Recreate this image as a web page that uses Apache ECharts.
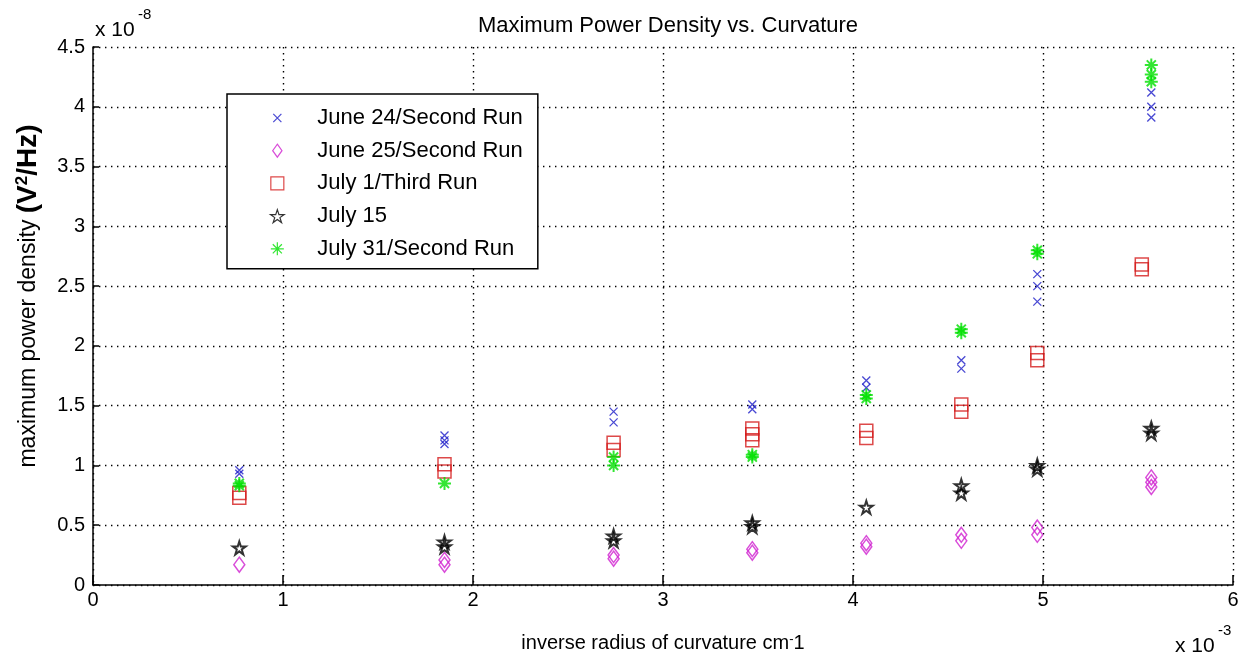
<!DOCTYPE html>
<html>
<head>
<meta charset="utf-8">
<script src="https://cdn.jsdelivr.net/npm/echarts@6/dist/echarts.min.js"></script>
<style>
html,body{margin:0;padding:0;background:#fff;}
#chart{width:1245px;height:663px;}
</style>
</head>
<body>
<div id="chart"></div>
<script>
// Values in axis units: x in 10^-3 cm^-1, y in 10^-8 V^2/Hz
const seriesNames = ['June 24/Second Run', 'June 25/Second Run', 'July 1/Third Run', 'July 15', 'July 31/Second Run'];

const xJune24 = [0.77, 0.77, 1.85, 1.85, 1.85, 2.74, 2.74, 3.47, 3.47, 4.07, 4.07, 4.57, 4.57, 4.97, 4.97, 4.97, 5.57, 5.57, 5.57];
const yJune24 = [0.96, 0.93, 1.25, 1.21, 1.18, 1.45, 1.36, 1.51, 1.47, 1.71, 1.65, 1.88, 1.81, 2.60, 2.50, 2.37, 4.12, 4.00, 3.91];

const xJune25 = [0.77, 1.85, 1.85, 2.74, 2.74, 3.47, 3.47, 4.07, 4.07, 4.57, 4.57, 4.97, 4.97, 5.57, 5.57, 5.57];
const yJune25 = [0.17, 0.21, 0.17, 0.25, 0.22, 0.30, 0.27, 0.35, 0.32, 0.42, 0.37, 0.48, 0.42, 0.90, 0.86, 0.82];

const xJuly1 = [0.77, 0.77, 1.85, 1.85, 2.74, 2.74, 3.47, 3.47, 3.47, 4.07, 4.07, 4.57, 4.57, 4.97, 4.97, 5.52, 5.52];
const yJuly1 = [0.77, 0.73, 1.01, 0.95, 1.19, 1.13, 1.31, 1.26, 1.21, 1.29, 1.23, 1.51, 1.45, 1.94, 1.88, 2.68, 2.64];

const xJuly15 = [0.77, 1.85, 1.85, 2.74, 2.74, 3.47, 3.47, 4.07, 4.57, 4.57, 4.97, 4.97, 5.57, 5.57];
const yJuly15 = [0.31, 0.36, 0.32, 0.41, 0.37, 0.52, 0.49, 0.65, 0.83, 0.77, 1.00, 0.97, 1.31, 1.27];

const xJuly31 = [0.77, 0.77, 1.85, 2.74, 2.74, 3.47, 3.47, 4.07, 4.07, 4.57, 4.57, 4.97, 4.97, 5.57, 5.57, 5.57];
const yJuly31 = [0.85, 0.83, 0.85, 1.07, 1.00, 1.09, 1.07, 1.59, 1.56, 2.14, 2.11, 2.80, 2.77, 4.35, 4.27, 4.21];

const xTicks = [0, 1, 2, 3, 4, 5, 6];
const yTicks = [0, 0.5, 1, 1.5, 2, 2.5, 3, 3.5, 4, 4.5];

function pairs(xs, ys) { return xs.map((x, i) => [x, ys[i]]); }

const FONT = '"Liberation Sans", Arial, sans-serif';
const starPath = 'path://M50,0L61.17,34.63L97.55,34.55L68.07,55.87L79.39,90.45L50,69L20.61,90.45L31.93,55.87L2.45,34.55L38.83,34.63Z';
const xPath = 'path://M0,0L10,10M10,0L0,10';
const xLegendPath = 'path://M-3,-3M0,0L10,10M10,0L0,10M13,13';
const astPath = 'path://M5,0L5,10M0,5L10,5M1.5,1.5L8.5,8.5M8.5,1.5L1.5,8.5';
const diamondPath = 'path://M5,0L10,7L5,14L0,7Z';
const rectPath = 'path://M0,0L10,0L10,10L0,10Z';

const chart = echarts.init(document.getElementById('chart'), null, {renderer: 'canvas'});

const dotted = {color: '#000', width: 1.4, type: [1.4, 4.6]};

const option = {
  backgroundColor: '#fff',
  animation: false,
  title: {
    text: 'Maximum Power Density vs. Curvature',
    left: 663, textAlign: 'center', top: 10,
    textStyle: {fontFamily: FONT, fontSize: 22, fontWeight: 'normal', color: '#000'}
  },
  grid: {left: 93, right: 12, top: 47, bottom: 78, containLabel: false},
  xAxis: {
    type: 'value', min: 0, max: 6, interval: 1,
    name: 'inverse radius of curvature cm{sup|-}1',
    nameLocation: 'middle', nameGap: 48,
    nameTextStyle: {fontFamily: FONT, fontSize: 20, color: '#000',
      rich: {sup: {fontFamily: FONT, fontSize: 13, color: '#000', verticalAlign: 'top', padding: [0, 0, 8, 0]}}},
    axisLine: {show: true, lineStyle: {color: '#000', width: 1.5}},
    axisTick: {show: true, inside: true, length: 10, lineStyle: {color: '#000', width: 1.5}},
    axisLabel: {fontFamily: FONT, fontSize: 20, color: '#000', margin: 5,
      formatter: v => xTicks.includes(v) ? String(v) : ''},
    splitLine: {show: true, lineStyle: dotted}
  },
  yAxis: {
    type: 'value', min: 0, max: 4.5, interval: 0.5,
    name: 'maximum power density {b|(V}{s|2}{b|/Hz)}',
    nameLocation: 'middle', nameGap: 50, nameRotate: 90,
    nameTextStyle: {fontFamily: FONT, fontSize: 23, color: '#000', padding: [0, 0, 0, 40],
      rich: {
        b: {fontFamily: FONT, fontSize: 28, fontWeight: 'bold', color: '#000'},
        s: {fontFamily: FONT, fontSize: 17, fontWeight: 'bold', color: '#000', verticalAlign: 'top', padding: [0, 0, 12, 0]}
      }},
    axisLine: {show: true, lineStyle: {color: '#000', width: 1.5}},
    axisTick: {show: true, inside: true, length: 6, lineStyle: {color: '#000', width: 1.5}},
    axisLabel: {fontFamily: FONT, fontSize: 20, color: '#000', margin: 8,
      formatter: v => yTicks.includes(v) ? String(v) : ''},
    splitLine: {show: true, lineStyle: dotted}
  },
  legend: {
    orient: 'vertical', left: 227, top: 94,
    padding: [13, 15, 9, 41],
    itemWidth: 70, itemHeight: 13, itemGap: 10.7,
    symbolKeepAspect: true,
    backgroundColor: '#fff', borderColor: '#000', borderWidth: 1.5, borderRadius: 0,
    textStyle: {fontFamily: FONT, fontSize: 22, color: '#000'},
    itemStyle: {borderWidth: 1.2},
    data: [
      {name: seriesNames[0], icon: xLegendPath},
      {name: seriesNames[1], icon: diamondPath},
      {name: seriesNames[2], icon: rectPath},
      {name: seriesNames[3], icon: starPath},
      {name: seriesNames[4], icon: astPath}
    ]
  },
  graphic: [
    {type: 'text', left: 95, top: 20, style: {text: 'x 10', font: '21px ' + FONT, fill: '#000'}},
    {type: 'text', left: 138, top: 7, style: {text: '-8', font: '15px ' + FONT, fill: '#000'}},
    {type: 'text', left: 1175, top: 636, style: {text: 'x 10', font: '21px ' + FONT, fill: '#000'}},
    {type: 'text', left: 1218, top: 623, style: {text: '-3', font: '15px ' + FONT, fill: '#000'}}
  ],
  series: [
    {name: seriesNames[0], type: 'scatter', data: pairs(xJune24, yJune24),
     symbol: xPath, symbolSize: 8,
     itemStyle: {color: 'none', borderColor: '#1c1cc8', borderWidth: 1.3}},
    {name: seriesNames[1], type: 'scatter', data: pairs(xJune25, yJune25),
     symbol: 'diamond', symbolSize: [11, 15],
     itemStyle: {color: 'none', borderColor: '#d020d0', borderWidth: 1.5}},
    {name: seriesNames[2], type: 'scatter', data: pairs(xJuly1, yJuly1),
     symbol: 'rect', symbolSize: 13,
     itemStyle: {color: 'none', borderColor: '#d41c1c', borderWidth: 1.5}},
    {name: seriesNames[3], type: 'scatter', data: pairs(xJuly15, yJuly15),
     symbol: starPath, symbolSize: 13,
     itemStyle: {color: 'none', borderColor: '#000', borderWidth: 2}},
    {name: seriesNames[4], type: 'scatter', data: pairs(xJuly31, yJuly31),
     symbol: astPath, symbolSize: 13,
     itemStyle: {color: 'none', borderColor: '#00e000', borderWidth: 2}}
  ]
};
chart.setOption(option);
</script>
</body>
</html>
